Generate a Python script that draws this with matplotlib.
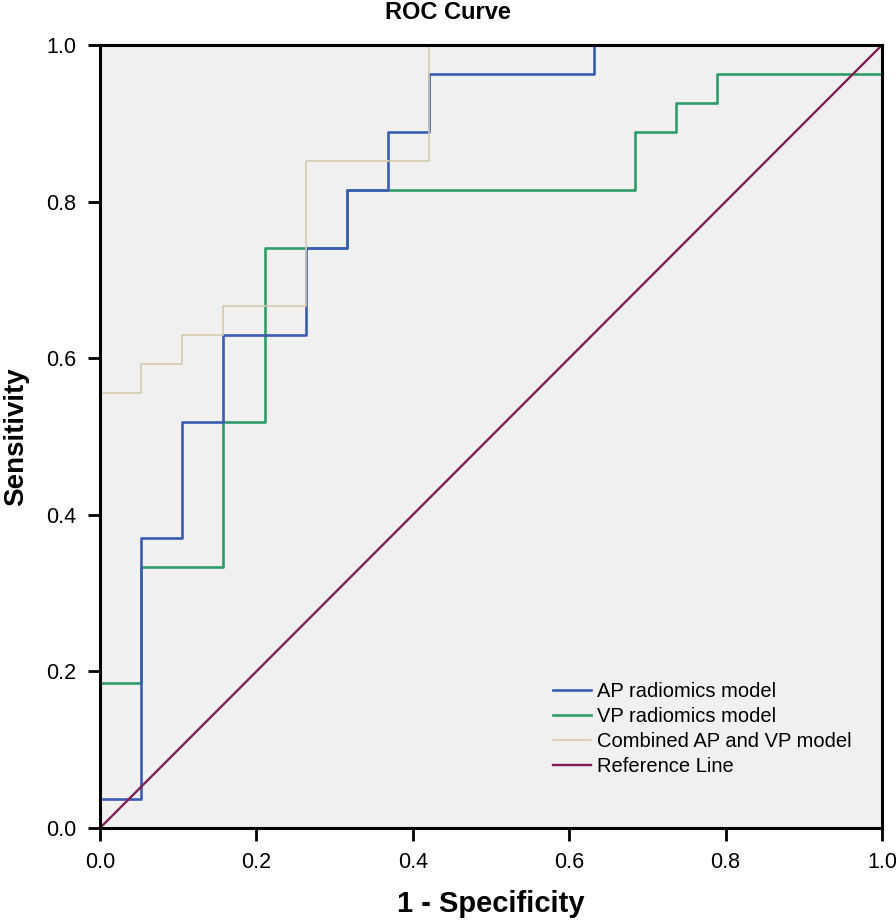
import numpy as np
import matplotlib.pyplot as plt

plt.rcParams['font.family'] = ['Liberation Sans', 'DejaVu Sans']

# counts of false / true positives at each ROC corner
N_NEG = 19
N_POS = 27

ap_fp = [0, 0, 1, 2, 3, 5, 6, 7, 8, 12, 19]
ap_tp = [0, 1, 10, 14, 17, 20, 22, 24, 26, 27, 27]

vp_fp = [0, 0, 1, 3, 4, 6, 13, 14, 15, 19]
vp_tp = [0, 5, 9, 14, 20, 22, 24, 25, 26, 27]

comb_fp = [0, 0, 1, 2, 3, 5, 8, 19]
comb_tp = [0, 15, 16, 17, 18, 23, 27, 27]

labels = ['AP radiomics model', 'VP radiomics model',
          'Combined AP and VP model', 'Reference Line']
colors = ['#3b5cb4', '#2f9c68', '#d6cbb0', '#7f1f58']
ticks = [0.0, 0.2, 0.4, 0.6, 0.8, 1.0]


def main():
    fig = plt.figure(figsize=(8.96, 9.22), dpi=100)
    ax = fig.add_axes([100/896, 94/922, 782/896, 783/922])
    ax.set_facecolor('#f0f0f0')

    ax.plot(np.array(vp_fp)/N_NEG, np.array(vp_tp)/N_POS, drawstyle='steps-post',
            color=colors[1], lw=1.9, label=labels[1])
    ax.plot(np.array(ap_fp)/N_NEG, np.array(ap_tp)/N_POS, drawstyle='steps-post',
            color=colors[0], lw=1.9, label=labels[0])
    ax.plot(np.array(comb_fp)/N_NEG, np.array(comb_tp)/N_POS, drawstyle='steps-post',
            color=colors[2], lw=1.2, label=labels[2])
    ax.plot([0, 1], [0, 1], color=colors[3], lw=1.7, label=labels[3])

    ax.set_xlim(0, 1)
    ax.set_ylim(0, 1)
    ax.set_xticks(ticks)
    ax.set_yticks(ticks)
    ax.set_xticklabels(['%.1f' % t for t in ticks])
    ax.set_yticklabels(['%.1f' % t for t in ticks])
    ax.tick_params(direction='out', length=9, width=2, labelsize=15.5,
                   top=False, right=False, pad=8)
    for sp in ax.spines.values():
        sp.set_linewidth(2.2)
        sp.set_color('black')

    fig.text(0.5, 1 - 1/922, 'ROC Curve', ha='center', va='top',
             fontsize=17, fontweight='bold')
    ax.set_xlabel('1 - Specificity', fontsize=21, fontweight='bold')
    ax.set_ylabel('Sensitivity', fontsize=20, fontweight='bold')
    ax.xaxis.set_label_coords(0.5, -(890 - 828)/783)
    ax.yaxis.set_label_coords((29 - 100)/782, 0.5)

    h, l = ax.get_legend_handles_labels()
    order = [1, 0, 2, 3]
    ax.legend([h[i] for i in order], [l[i] for i in order],
              loc='upper left', bbox_to_anchor=(553/896, 1 - 682/922),
              bbox_transform=fig.transFigure, frameon=False, fontsize=14.5,
              handlelength=1.9, handletextpad=0.3, labelspacing=0.3,
              borderpad=0, borderaxespad=0)

    fig.savefig('out.png', dpi=100)


if __name__ == '__main__':
    main()
